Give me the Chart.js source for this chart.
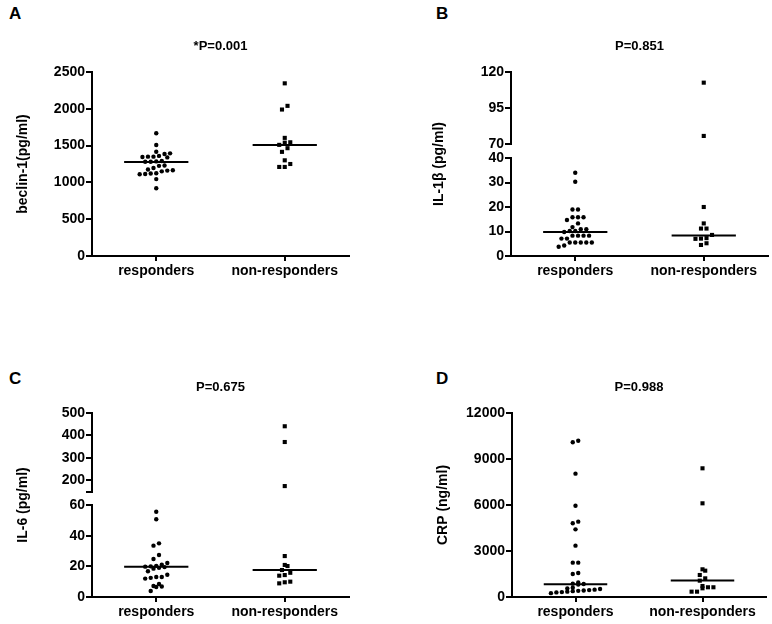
<!DOCTYPE html>
<html>
<head>
<meta charset="utf-8">
<script src="https://cdn.jsdelivr.net/npm/chart.js@4.4.0/dist/chart.umd.min.js"></script>
<style>
  body { margin:0; background:#fff; width:772px; height:624px; position:relative; overflow:hidden; font-family:'Liberation Sans', Arial, sans-serif; }
  .panel { position:absolute; }
  .letter { position:absolute; font-weight:bold; font-size:17px; line-height:1; color:#000; }
</style>
</head>
<body>
<div class="letter" style="left:9px;top:5px">A</div>
<div class="letter" style="left:436px;top:5px">B</div>
<div class="letter" style="left:9px;top:370px">C</div>
<div class="letter" style="left:436px;top:370px">D</div>
<div class="panel" style="left:0;top:0;width:386px;height:283px"><canvas id="cA" width="386" height="283"></canvas></div>
<div class="panel" style="left:386px;top:0;width:386px;height:283px"><canvas id="cB" width="386" height="283"></canvas></div>
<div class="panel" style="left:0;top:330px;width:386px;height:294px"><canvas id="cC" width="386" height="294"></canvas></div>
<div class="panel" style="left:386px;top:330px;width:386px;height:294px"><canvas id="cD" width="386" height="294"></canvas></div>
<script>
// ---------------- data ----------------
const categories = ['responders', 'non-responders'];

const beclinResponders = [1667, 1508, 1417, 1395, 1386, 1360, 1350, 1350, 1345, 1340, 1290, 1285, 1280, 1280, 1230, 1225, 1195, 1175, 1165, 1160, 1150, 1125, 1120, 1115, 1110, 1045, 920];
const beclinNonResponders = [2346, 2040, 1990, 1605, 1545, 1540, 1510, 1465, 1415, 1300, 1250, 1210, 1210];
const beclinMedians = [1277, 1508];
const beclinTicks = [0, 500, 1000, 1500, 2000, 2500];

const il1bResponders = [34.0, 30.3, 19.0, 19.0, 15.8, 15.8, 15.8, 14.7, 13.3, 11.8, 10.9, 10.9, 10.2, 10.2, 9.8, 8.3, 8.3, 8.3, 8.3, 7.1, 7.1, 5.5, 5.5, 5.5, 5.5, 5.5, 4.3, 3.8];
const il1bNonResponders = [112.6, 75.6, 20.0, 13.3, 11.2, 11.2, 8.6, 7.3, 7.1, 7.0, 5.2, 4.5];
const il1bMedians = [9.8, 8.4];
const il1bLowerTicks = [0, 10, 20, 30, 40];
const il1bUpperTicks = [70, 95, 120];

const il6Responders = [55.6, 50.7, 35.0, 33.5, 27.4, 24.8, 22.2, 21.0, 20.3, 20.0, 19.8, 19.5, 19.0, 18.5, 16.8, 14.5, 13.0, 13.0, 12.5, 12.0, 8.5, 7.2, 6.8, 6.5, 3.9];
const il6NonResponders = [441, 371, 175, 26.7, 20.9, 20.2, 17.6, 15.8, 14.3, 13.9, 10.0, 9.6, 8.9];
const il6Medians = [19.8, 17.6];
const il6LowerTicks = [0, 20, 40, 60];
const il6UpperTicks = [150, 200, 300, 400, 500];
const il6UnlabeledTicks = [150];

const crpResponders = [10194, 10090, 8043, 5955, 4913, 4805, 4413, 3348, 2239, 2239, 1565, 1500, 950, 870, 850, 820, 600, 560, 520, 480, 450, 420, 400, 380, 350, 320, 300, 250];
const crpNonResponders = [8393, 6110, 1806, 1717, 1435, 1217, 1065, 717, 634, 634, 567, 348, 348];
const crpMedians = [830, 1080];
const crpTicks = [0, 3000, 6000, 9000, 12000];

const pTitles = ['*P=0.001', 'P=0.851', 'P=0.675', 'P=0.988'];
const yTitles = ['beclin-1(pg/ml)', 'IL-1\u03b2 (pg/ml)', 'IL-6 (pg/ml)', 'CRP (ng/ml)'];

// ---------------- helpers ----------------
const FONT = "'Liberation Sans', Arial, sans-serif";
const BLACK = '#000';

// dot-plot (column scatter) layout: group values into rows and spread them sideways
function swarmPoints(values, center, pxPerUnit) {
  const ROW_PX = 4.5, STEP = 0.043;
  const sorted = values.slice().sort((a, b) => a - b);
  const rows = [];
  let cur = null;
  for (const v of sorted) {
    if (!cur || (v - cur.start) * pxPerUnit > ROW_PX) { cur = { start: v, vals: [] }; rows.push(cur); }
    cur.vals.push(v);
  }
  const pts = [];
  for (const r of rows) {
    const n = r.vals.length;
    r.vals.forEach((v, i) => pts.push({ x: center + (i - (n - 1) / 2) * STEP, y: v }));
  }
  return pts;
}

function yScale(seg, width, extra) {
  return Object.assign({
    type: 'linear', position: 'left',
    min: seg.ticks[0], max: seg.ticks[seg.ticks.length - 1],
    afterBuildTicks: s => { s.ticks = seg.ticks.map(v => ({ value: v })); },
    afterFit: s => { s.width = width; },
    ticks: {
      color: BLACK, autoSkip: false, padding: 1,
      font: { family: FONT, size: 14, weight: 'bold' },
      callback: v => (seg.unlabeled && seg.unlabeled.includes(v)) ? '' : String(v)
    },
    grid: { display: true, drawOnChartArea: false, drawTicks: true, tickLength: 6, color: BLACK, lineWidth: 2 },
    border: { display: true, color: BLACK, width: 2 }
  }, extra || {});
}

function makePanel(id, p) {
  const ids = ['y', 'yUp'];
  const scales = {
    x: {
      type: 'linear', position: 'bottom', min: 0.5, max: 2.5,
      afterBuildTicks: s => { s.ticks = categories.map((c, i) => ({ value: i + 1 })); },
      afterFit: s => { s.height = p.xHeight; },
      ticks: {
        color: BLACK, autoSkip: false, padding: 2, maxRotation: 0,
        font: { family: FONT, size: 14, weight: 'bold' },
        callback: v => categories[Math.round(v) - 1]
      },
      grid: { display: true, drawOnChartArea: false, drawTicks: true, tickLength: 5, color: BLACK, lineWidth: 2 },
      border: { display: true, color: BLACK, width: 2 }
    }
  };
  const broken = p.segments.length > 1;
  p.segments.forEach((seg, i) => {
    const extra = broken ? { stack: 'v', stackWeight: seg.px, weight: i === 0 ? 1 : 3 } : {};
    scales[ids[i]] = yScale(seg, p.scaleWidth, extra);
  });
  if (broken) {
    scales.yGap = {
      type: 'linear', position: 'left', stack: 'v', stackWeight: p.gapPx, weight: 2,
      min: 0, max: 1,
      afterFit: s => { s.width = p.scaleWidth; },
      ticks: { display: false }, grid: { display: false }, border: { display: false }
    };
  }

  const datasets = [];
  const groups = [
    { vals: p.resp, center: 1, style: 'circle', r: 2.2 },
    { vals: p.nonResp, center: 2, style: 'rect', r: 2.9 }
  ];
  groups.forEach(g => {
    p.segments.forEach((seg, i) => {
      const lo = seg.ticks[0], hi = seg.ticks[seg.ticks.length - 1];
      const inSeg = g.vals.filter(v => v >= lo && v <= hi);
      if (!inSeg.length) return;
      const pxPerUnit = seg.px / (hi - lo);
      datasets.push({
        type: 'scatter', yAxisID: ids[i],
        data: swarmPoints(inSeg, g.center, pxPerUnit),
        pointStyle: g.style, pointRadius: g.r, pointHoverRadius: g.r,
        backgroundColor: BLACK, borderWidth: 0, clip: false
      });
    });
  });
  p.medians.forEach((m, i) => {
    datasets.push({
      type: 'line', yAxisID: 'y',
      data: [{ x: i + 1 - 0.25, y: m }, { x: i + 1 + 0.25, y: m }],
      borderColor: BLACK, borderWidth: 2, pointRadius: 0, fill: false, clip: false
    });
  });

  new Chart(document.getElementById(id), {
    type: 'scatter',
    data: { datasets },
    options: {
      responsive: false, animation: false, events: [],
      layout: { padding: { left: 0, right: p.padRight, top: 0, bottom: 0 } },
      plugins: {
        legend: { display: false }, tooltip: { enabled: false },
        title: {
          display: true, text: p.title, position: 'top', fullSize: false, align: 'center',
          color: BLACK, font: { family: FONT, size: 13, weight: 'bold', lineHeight: 1.2 },
          padding: { top: p.titlePad[0], bottom: p.titlePad[1] }
        },
        subtitle: {
          display: true, text: p.yTitle, position: 'left', fullSize: false, align: 'center',
          color: BLACK, font: { family: FONT, size: 14, weight: 'bold', lineHeight: 1.2 },
          padding: { top: p.yTitlePad[0], bottom: p.yTitlePad[1] }
        }
      },
      scales
    }
  });
}

makePanel('cA', {
  title: pTitles[0], yTitle: yTitles[0],
  resp: beclinResponders, nonResp: beclinNonResponders, medians: beclinMedians,
  segments: [{ ticks: beclinTicks, px: 184 }],
  scaleWidth: 52, yTitlePad: [14.6, 8.6], titlePad: [38.2, 18.2], padRight: 37, xHeight: 27
});
makePanel('cB', {
  title: pTitles[1], yTitle: yTitles[1],
  resp: il1bResponders, nonResp: il1bNonResponders, medians: il1bMedians,
  segments: [{ ticks: il1bLowerTicks, px: 98 }, { ticks: il1bUpperTicks, px: 72 }], gapPx: 14,
  scaleWidth: 55.6, yTitlePad: [44.6, 8], titlePad: [38.2, 18.2], padRight: 4, xHeight: 27
});
makePanel('cC', {
  title: pTitles[2], yTitle: yTitles[2],
  resp: il6Responders, nonResp: il6NonResponders, medians: il6Medians,
  segments: [{ ticks: il6LowerTicks, px: 92 }, { ticks: il6UpperTicks, px: 78.7, unlabeled: il6UnlabeledTicks }], gapPx: 13.3,
  scaleWidth: 52, yTitlePad: [14.6, 8.6], titlePad: [49.2, 18.2], padRight: 37, xHeight: 27
});
makePanel('cD', {
  title: pTitles[3], yTitle: yTitles[3],
  resp: crpResponders, nonResp: crpNonResponders, medians: crpMedians,
  segments: [{ ticks: crpTicks, px: 184 }],
  scaleWidth: 52.6, yTitlePad: [48.6, 8], titlePad: [49.2, 18.2], padRight: 6, xHeight: 27
});
</script>
</body>
</html>
